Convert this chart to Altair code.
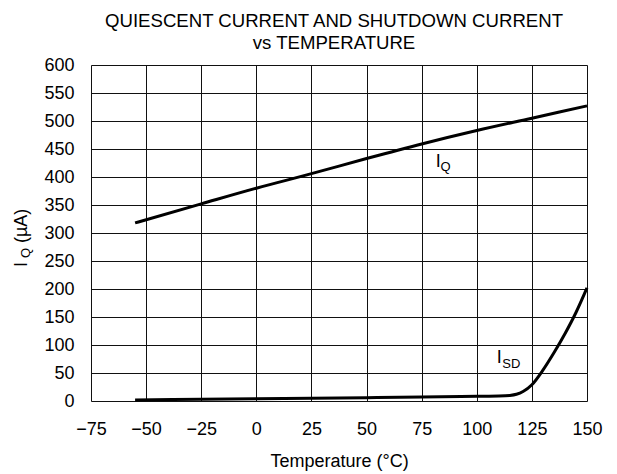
import altair as alt
import pandas as pd

# Quiescent current (µA) vs temperature (°C)
iq_temp = [-55, -25, 0, 25, 50, 75, 100, 125, 150]
iq_val = [318, 352, 380, 406, 433, 459, 483, 505, 527]

# Shutdown current (µA) vs temperature (°C)
isd_temp = [-55, -25, 0, 25, 50, 75, 100, 110, 115, 118, 121, 125, 130, 135, 140, 145, 150]
isd_val = [2, 3, 4, 5, 6, 7, 8.5, 9, 10, 12, 17, 29, 55, 86, 120, 158, 202]

x_ticks = [-75, -50, -25, 0, 25, 50, 75, 100, 125, 150]
y_ticks = [0, 50, 100, 150, 200, 250, 300, 350, 400, 450, 500, 550, 600]

# curve labels (main letter + subscript)
label_text = ["I", "Q", "I", "SD"]
label_temp = [81.4, 83.6, 109.1, 111.6]
label_val = [418, 411, 68, 59]
label_size = [18, 13, 18, 13]

FONT = "Liberation Sans"

iq_df = pd.DataFrame({"t": iq_temp, "v": iq_val})
isd_df = pd.DataFrame({"t": isd_temp, "v": isd_val})
lab_df = pd.DataFrame({"label": label_text, "t": label_temp, "v": label_val, "size": label_size})

xs = alt.Scale(domain=[-75, 150], nice=False, zero=False)
ys = alt.Scale(domain=[0, 600], nice=False, zero=False)

x_axis = alt.Axis(values=x_ticks, grid=True, gridColor="#111", gridWidth=1, tickSize=0,
                  domain=False, labelFontSize=18, labelPadding=19, labelColor="black",
                  labelFont=FONT, labelFlush=False, labelOverlap=False,
                  title="Temperature (°C)", titleFont=FONT,
                  titleFontSize=18, titleFontWeight="normal", titleColor="black", titlePadding=14)
y_axis = alt.Axis(values=y_ticks, tickCount=13, grid=True, gridColor="#111", gridWidth=1, tickSize=0,
                  domain=False, labelFontSize=18, labelPadding=17, labelColor="black",
                  labelFont=FONT, labelFlush=False, labelOverlap=False, title=None)

X = alt.X("t:Q", scale=xs, axis=x_axis)
Y = alt.Y("v:Q", scale=ys, axis=y_axis)

iq_line = alt.Chart(iq_df).mark_line(color="black", strokeWidth=3, interpolate="monotone").encode(x=X, y=Y)
isd_line = alt.Chart(isd_df).mark_line(color="black", strokeWidth=3, interpolate="monotone").encode(x=X, y=Y)
labels = alt.Chart(lab_df).mark_text(align="left", baseline="alphabetic", font=FONT, color="black").encode(
    x=X, y=Y,
    text="label:N",
    size=alt.Size("size:Q", scale=None, legend=None),
)

one = pd.DataFrame({"k": [0]})
yt1 = alt.Chart(one).mark_text(angle=270, align="left", baseline="alphabetic", font=FONT,
                               fontSize=18, color="black").encode(
    x=alt.value(-64), y=alt.value(202), text=alt.value("I"))
yt2 = alt.Chart(one).mark_text(angle=270, align="left", baseline="alphabetic", font=FONT,
                               fontSize=13, color="black").encode(
    x=alt.value(-61), y=alt.value(193), text=alt.value("Q"))
yt3 = alt.Chart(one).mark_text(angle=270, align="left", baseline="alphabetic", font=FONT,
                               fontSize=18, color="black").encode(
    x=alt.value(-64), y=alt.value(178), text=alt.value("(µA)"))

chart = alt.layer(iq_line, isd_line, labels, yt1, yt2, yt3).properties(
    width=496,
    height=336,
    padding={"left": 83, "top": 57, "right": 22, "bottom": 73},
    autosize=alt.AutoSizeParams(type="none"),
    title=alt.TitleParams(
        text=["QUIESCENT CURRENT AND SHUTDOWN CURRENT", "vs TEMPERATURE"],
        font=FONT, fontSize=18.6, fontWeight="normal", color="black",
        lineHeight=22.5, offset=3, anchor="middle", dx=-5,
    ),
).configure_view(stroke="black", strokeWidth=3).configure(background="white")

chart.save("out.html", embed_options={"renderer": "svg", "actions": False})
